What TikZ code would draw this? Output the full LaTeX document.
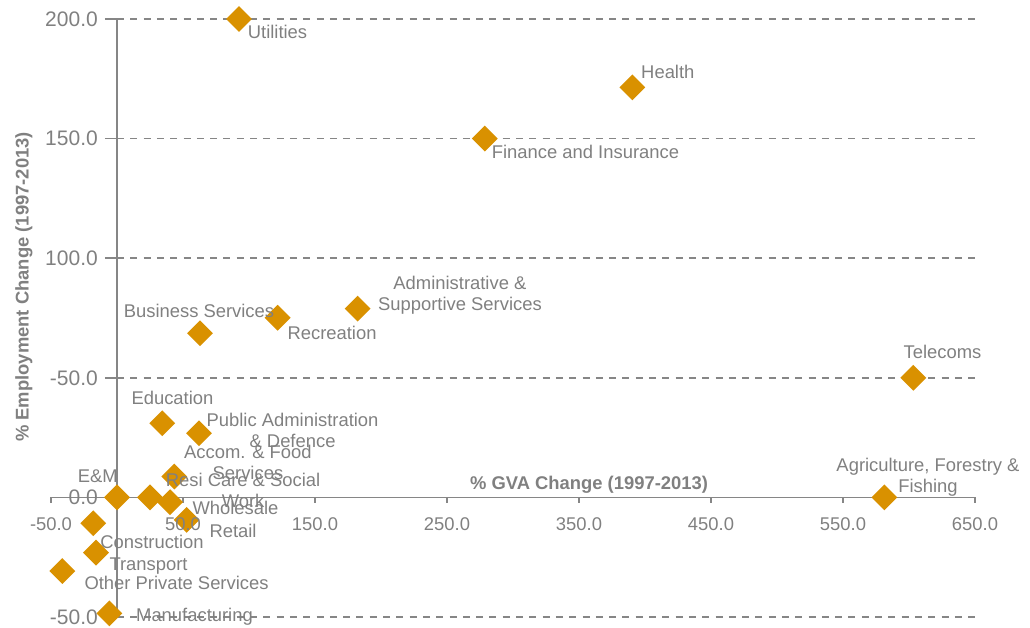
\documentclass[tikz,border=0pt]{standalone}
\usepackage{fontspec}
\setmainfont{Liberation Sans}
\usetikzlibrary{shapes.geometric}

\definecolor{axisgrey}{RGB}{134,134,134}
\definecolor{textgrey}{RGB}{128,128,128}
\definecolor{sectororange}{RGB}{217,145,0}

\begin{document}
\begin{tikzpicture}[x=1.32pt,y=2.392pt,
  gridline/.style={draw=axisgrey,line width=1.6pt,dash pattern=on 7pt off 6.3pt},
  axisline/.style={draw=axisgrey,line width=1.6pt},
  sector/.style={diamond,fill=sectororange,inner sep=0pt,minimum size=26pt},
  lbl/.style={text=textgrey,font=\fontsize{18.4}{21}\selectfont,inner sep=0pt,align=center},
  xlbl/.style={text=textgrey,font=\fontsize{18.4}{21}\selectfont,inner sep=0pt},
  ylbl/.style={text=textgrey,font=\fontsize{21}{24}\selectfont,inner sep=0pt,anchor=east},
  axtitle/.style={text=textgrey,font=\fontsize{18.4}{21}\selectfont\bfseries,inner sep=0pt}]
\useasboundingbox (-88.64,-54.6) rectangle (691.67,207.94);

% grid and axes
\foreach \y in {200,150,100,50,-50}
  \draw[gridline] (0,\y) -- (650,\y);
\foreach \y in {200,150,100,50,0,-50}
  \draw[axisline] (-9.1,\y) -- (0,\y);
\draw[axisline] (-50,0) -- (650,0);
\draw[axisline] (0,-50) -- (0,200);
\foreach \x in {-50,50,...,650}
  \draw[axisline] (\x,0) -- (\x,-2.5);

% sectors
\node[sector] (utilities) at (92.4,200) {};
\node[sector] (health) at (390.4,171.4) {};
\node[sector] (finance) at (278.6,150) {};
\node[sector] (admin) at (182.3,78.9) {};
\node[sector] (recreation) at (121.7,75.1) {};
\node[sector] (business) at (62.9,68.6) {};
\node[sector] (telecoms) at (603.3,50) {};
\node[sector] (agri) at (581.3,0) {};
\node[sector] (education) at (34.3,31) {};
\node[sector] (pubadmin) at (62.1,26.8) {};
\node[sector] (accom) at (43.4,8.7) {};
\node[sector] (em) at (0,0) {};
\node[sector] (resicare) at (25,0) {};
\node[sector] (wholesale) at (40.2,-2) {};
\node[sector] (retail) at (52.8,-9.4) {};
\node[sector] (construction) at (-18,-10.8) {};
\node[sector] (transport) at (-15.9,-23.1) {};
\node[sector] (otherpriv) at (-41.4,-30.8) {};
\node[sector] (manufacturing) at (-5.8,-48.5) {};

% tick labels and titles
\foreach \x in {-50,50,...,650}
  \node[xlbl] (x\x) at (\x,-11.2) {\x.0};
\foreach \y/\t in {200/200.0,150/150.0,100/100.0,50/-50.0,0/0.0,-50/-50.0}
  \node[ylbl] (y\y) at (-14.4,\y) {\t};

\node[axtitle] (xtitle) at (357.6,5.2) {\% GVA Change (1997-2013)};
\node[axtitle,rotate=90] (ytitle) at (-70.5,88) {\% Employment Change (1997-2013)};

% sector labels
\node[lbl] (utilities-l) at (121.6,194.6) {Utilities};
\node[lbl] (health-l) at (417.3,178) {Health};
\node[lbl] (finance-l) at (354.9,144.4) {Finance and Insurance};
\node[lbl] (admin-l) at (259.8,84.4) {Administrative \&\\Supportive Services};
\node[lbl] (recreation-l) at (162.9,68.7) {Recreation};
\node[lbl] (business-l) at (62.1,77.9) {Business Services};
\node[lbl] (telecoms-l) at (625.4,60.8) {Telecoms};
\node[lbl] (agri-l) at (614.4,8.3) {Agriculture, Forestry \&\\Fishing};
\node[lbl] (education-l) at (42,41.6) {Education};
\node[lbl] (pubadmin-l) at (133,28.2) {Public Administration\\\& Defence};
\node[lbl] (accom-l) at (99.2,14.6) {Accom. \& Food\\Services};
\node[lbl] (em-l) at (-14.5,8.7) {E\&M};
\node[lbl] (resicare-l) at (95.5,2.9) {Resi Care \& Social\\Work};
\node[lbl] (wholesale-l) at (89.8,-4.3) {Wholesale};
\node[lbl] (retail-l) at (87.9,-14) {Retail};
\node[lbl] (construction-l) at (26.5,-18.6) {Construction};
\node[lbl] (transport-l) at (23.9,-28.7) {Transport};
\node[lbl] (otherpriv-l) at (45.1,-35.8) {Other Private Services};
\node[lbl] (manufacturing-l) at (58.7,-50) {Manufacturing};
\end{tikzpicture}
\end{document}
